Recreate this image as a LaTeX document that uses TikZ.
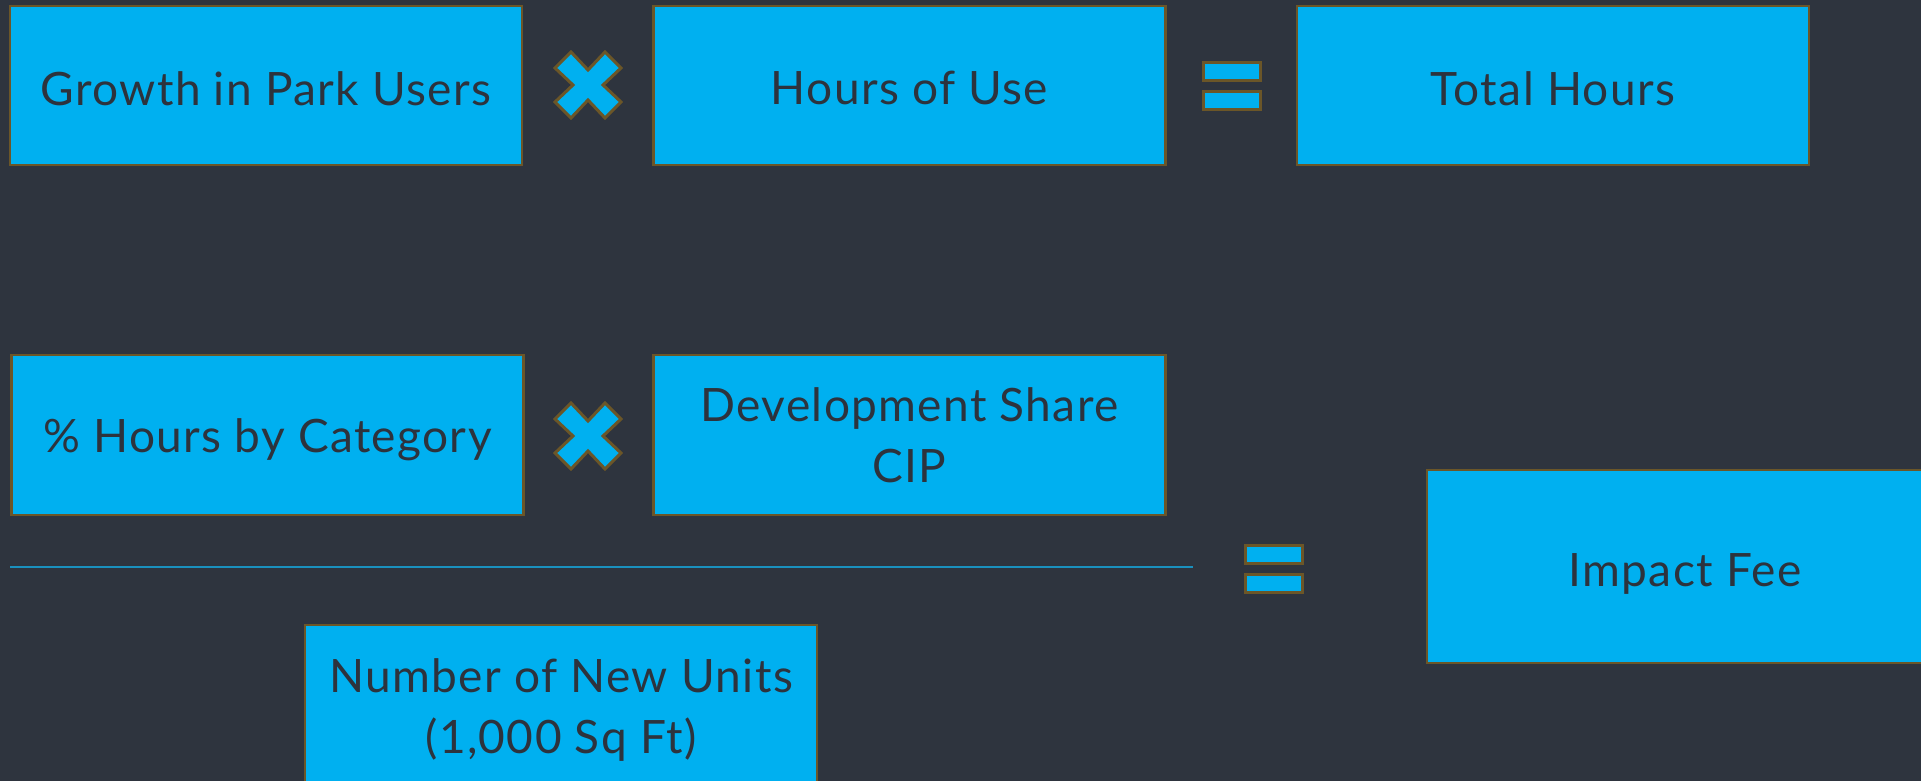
\documentclass[tikz,border=0pt]{standalone}
\usepackage{fontspec}
\setmainfont[LetterSpace=3]{Lato}
\definecolor{bg}{HTML}{2E343E}
\definecolor{boxfill}{HTML}{00B0F0}
\definecolor{boxline}{HTML}{6B5628}
\definecolor{txt}{HTML}{2D333D}
\definecolor{rule}{HTML}{1A90BE}
\newcommand{\lowertext}[2]{\raisebox{-#1}[\height][\depth]{#2}}
\tikzset{
  card/.style={draw=boxline, line width=2.5pt, fill=boxfill, text=txt,
    inner sep=0pt, align=center, minimum width=512pt, minimum height=159pt,
    font=\fontsize{46}{61}\selectfont},
  opshape/.style={draw=boxline, line width=3pt, fill=boxfill, line join=miter},
  timesop/.pic={
    \path[opshape] (-33,-17) -- (-17,-33) -- (0,-15) -- (17,-33) -- (33,-17) -- (15,0)
      -- (33,17) -- (17,33) -- (0,15) -- (-17,33) -- (-33,17) -- (-15,0) -- cycle;
  },
  equalsop/.pic={
    \path[opshape] (-28.5,-22.5) rectangle (28.5,-4.5);
    \path[opshape] (-28.5,6.5) rectangle (28.5,24.5);
  }
}
\begin{document}
\begin{tikzpicture}[x=1pt,y=-1pt]
\fill[bg] (0,0) rectangle (1921,781);
\useasboundingbox (0,0) rectangle (1921,781);

\node[card] (growth) at (266,85.5) {\lowertext{3pt}{Growth in Park Users}};
\node[card] (hours) at (909.5,85.5) {\lowertext{2pt}{Hours of Use}};
\node[card] (total) at (1553,85.5) {\lowertext{3pt}{Total Hours}};
\node[card, minimum height=160pt] (pct) at (267.5,435) {\lowertext{5pt}{\% Hours by Category}};
\node[card, minimum height=160pt] (dev) at (909.5,435) {Development Share\\CIP};
\node[card, minimum width=516pt, minimum height=193pt] (fee) at (1685,566.5) {\lowertext{7pt}{Impact Fee}};
\node[card, minimum height=170pt] (units) at (561,710) {Number of New Units\\(1,000 Sq Ft)};

\pic at (588,85) {timesop};
\pic at (1232,85.5) {equalsop};
\pic at (588,436) {timesop};
\pic at (1274,567.5) {equalsop};

\coordinate (ruleL) at (10,567);
\coordinate (ruleR) at (1193,567);
\draw[rule, line width=2pt] (ruleL) -- (ruleR);
\end{tikzpicture}
\end{document}
